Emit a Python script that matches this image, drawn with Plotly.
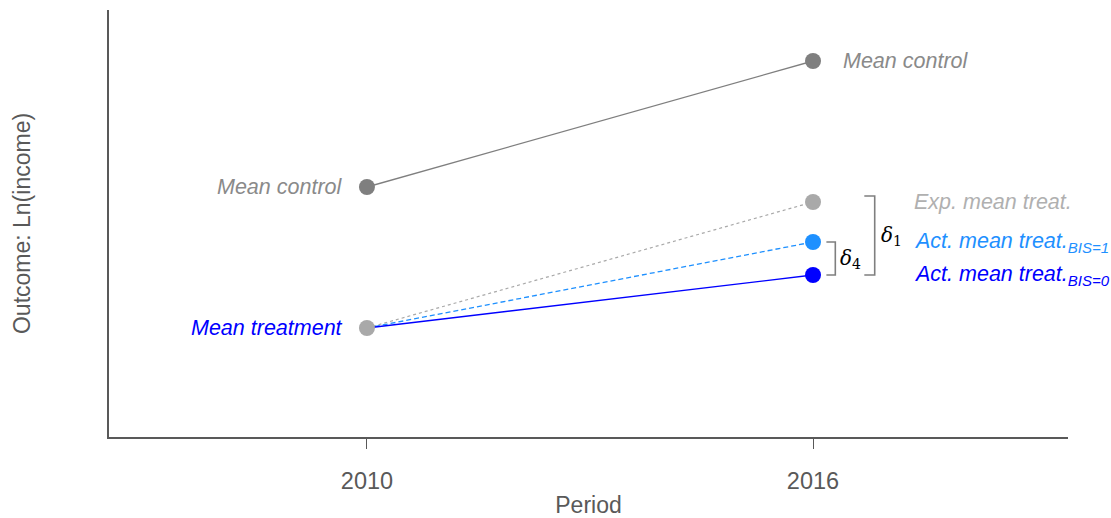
import plotly.graph_objects as go

# Periods and group means (log income)
years = [2010, 2016]
control_means = [9.564, 10.068]
treatment_2010 = 9.0
expected_treat_2016 = 9.504
actual_treat_bis1 = 9.344
actual_treat_bis0 = 9.212

GRAY_CTRL = "#7f7f7f"
GRAY_EXP = "#a9a9a9"
BLUE_BIS1 = "#1e90ff"
BLUE_BIS0 = "#0000ff"
AXIS_COL = "#595959"
FONT = "Liberation Sans, Arial, sans-serif"

fig = go.Figure()

# Connecting lines
fig.add_trace(go.Scatter(x=years, y=control_means, mode="lines",
                         line=dict(color=GRAY_CTRL, width=1.3)))
fig.add_trace(go.Scatter(x=years, y=[treatment_2010, expected_treat_2016], mode="lines",
                         line=dict(color=GRAY_EXP, width=1.2, dash="dot")))
fig.add_trace(go.Scatter(x=years, y=[treatment_2010, actual_treat_bis1], mode="lines",
                         line=dict(color=BLUE_BIS1, width=1.3, dash="5px,3px")))
fig.add_trace(go.Scatter(x=years, y=[treatment_2010, actual_treat_bis0], mode="lines",
                         line=dict(color=BLUE_BIS0, width=1.3)))

# Points
fig.add_trace(go.Scatter(x=years, y=control_means, mode="markers",
                         marker=dict(color=GRAY_CTRL, size=16)))
fig.add_trace(go.Scatter(x=[2010], y=[treatment_2010], mode="markers",
                         marker=dict(color=GRAY_EXP, size=16)))
fig.add_trace(go.Scatter(x=[2016], y=[expected_treat_2016], mode="markers",
                         marker=dict(color=GRAY_EXP, size=16)))
fig.add_trace(go.Scatter(x=[2016], y=[actual_treat_bis1], mode="markers",
                         marker=dict(color=BLUE_BIS1, size=16)))
fig.add_trace(go.Scatter(x=[2016], y=[actual_treat_bis0], mode="markers",
                         marker=dict(color=BLUE_BIS0, size=16)))

# Point labels
def label(x, y, text, color, xanchor, xshift):
    fig.add_annotation(x=x, y=y, text=f"<i>{text}</i>", showarrow=False,
                       xanchor=xanchor, yanchor="middle", xshift=xshift,
                       font=dict(family=FONT, size=21.5, color=color))

label(2010, control_means[0], "Mean control", "#8a8a8a", "right", -22)
label(2010, treatment_2010, "Mean treatment", BLUE_BIS0, "right", -22)
label(2016, control_means[1], "Mean control", "#8a8a8a", "left", 28)
label(2016, expected_treat_2016, "Exp. mean treat.", "#b0b0b0", "left", 99)
label(2016, actual_treat_bis1, "Act. mean treat.<sub>BIS=1</sub>", BLUE_BIS1, "left", 99)
label(2016, actual_treat_bis0, "Act. mean treat.<sub>BIS=0</sub>", BLUE_BIS0, "left", 99)

# Difference brackets
def bracket(x0, x1, y0, y1):
    path = f"M {x0} {y0} L {x1} {y0} L {x1} {y1} L {x0} {y1}"
    fig.add_shape(type="path", path=path, xref="x", yref="y",
                  line=dict(color="#7f7f7f", width=1.6))

pad = 0.024
bracket(2016.69, 2016.83, expected_treat_2016 + pad, actual_treat_bis0)
bracket(2016.18, 2016.30, actual_treat_bis1, actual_treat_bis0)

fig.add_annotation(x=2016.83, y=(expected_treat_2016 + pad + actual_treat_bis0) / 2,
                   text="<i>δ</i><sub>1</sub>", showarrow=False, xanchor="left",
                   xshift=4, font=dict(family="DejaVu Serif", size=20, color="black"))
fig.add_annotation(x=2016.30, y=(actual_treat_bis1 + actual_treat_bis0) / 2,
                   text="<i>δ</i><sub>4</sub>", showarrow=False, xanchor="left",
                   xshift=3, font=dict(family="DejaVu Serif", size=20, color="black"))

fig.update_layout(
    width=1111, height=518,
    margin=dict(l=109, r=43, t=10, b=81),
    plot_bgcolor="white", paper_bgcolor="white",
    showlegend=False,
    font=dict(family=FONT, color=AXIS_COL),
    xaxis=dict(range=[2006.53, 2019.43], tickvals=years, ticktext=["2010", "2016"],
               automargin=False,
               showgrid=False, zeroline=False, showline=True, linecolor=AXIS_COL,
               linewidth=1.6, ticks="outside", ticklen=10, tickcolor=AXIS_COL,
               tickwidth=1.4, tickfont=dict(size=23.5, color=AXIS_COL),
               ticklabelstandoff=12,
               title=dict(text="Period", font=dict(size=23, color=AXIS_COL), standoff=6)),
    yaxis=dict(range=[8.564, 10.272], showticklabels=False, ticks="",
               automargin=False,
               showgrid=False, zeroline=False, showline=True, linecolor=AXIS_COL,
               linewidth=1.6,
               title=dict(text="Outcome: Ln(income)", font=dict(size=23, color=AXIS_COL),
                          standoff=70)),
)

fig.write_html("out.html")
